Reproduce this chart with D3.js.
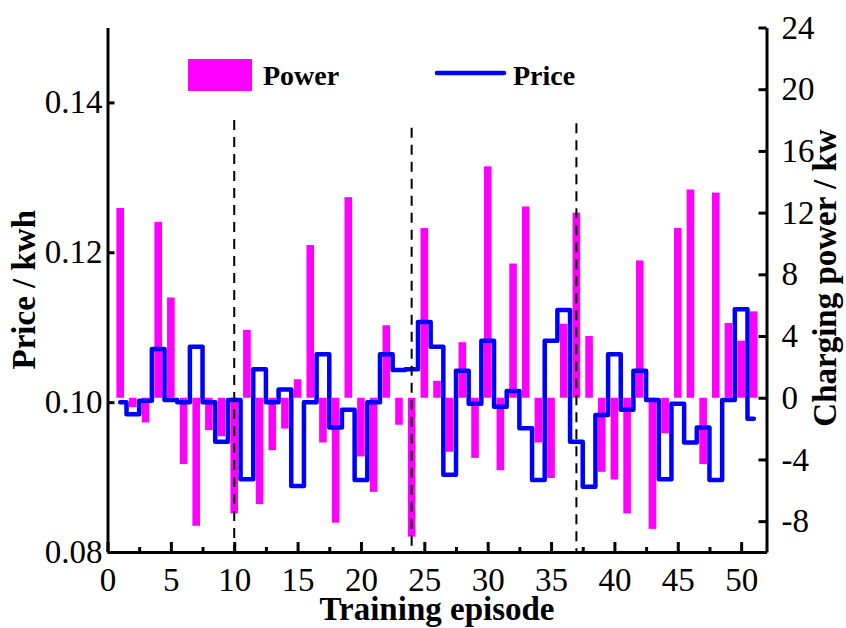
<!DOCTYPE html>
<html>
<head>
<meta charset="utf-8">
<script src="https://cdn.jsdelivr.net/npm/d3@7"></script>
<style>
  html, body { margin: 0; padding: 0; background: #fff; }
  svg { display: block; font-family: "Liberation Serif", "Times New Roman", serif; }
</style>
</head>
<body>
<svg id="chart" width="846" height="628"></svg>
<script>
// Training episodes (x categories)
const episodes = [1, 2, 3, 4, 5, 6, 7, 8, 9, 10, 11, 12, 13, 14, 15, 16, 17, 18, 19, 20,
  21, 22, 23, 24, 25, 26, 27, 28, 29, 30, 31, 32, 33, 34, 35, 36, 37, 38, 39, 40,
  41, 42, 43, 44, 45, 46, 47, 48, 49, 50, 51];

// Charging power per episode (kW, right axis)
const power = [12.3, -0.6, -1.6, 11.4, 6.5, -4.3, -8.3, -2.1, -2.5, -7.5,
  4.4, -6.9, -3.4, -2.0, 1.2, 9.9, -2.9, -8.1, 13.0, -3.8,
  -6.1, 4.7, -1.75, -9.0, 11.0, 1.1, -3.5, 3.6, -3.9, 15.0,
  -4.7, 8.7, 12.4, -2.9, -5.2, 4.8, 12.0, 4.0, -4.8, -5.3,
  -7.5, 8.9, -8.5, -2.3, 11.0, 13.5, -4.3, 13.3, 4.85, 3.7,
  5.6];

// Electricity price per episode (per kWh, left axis)
const price = [0.1000, 0.0984, 0.1002, 0.1071, 0.1003, 0.1000, 0.1074, 0.1000, 0.0947, 0.1003,
  0.0897, 0.1044, 0.1000, 0.1017, 0.0888, 0.1000, 0.1064, 0.0966, 0.0990, 0.0896,
  0.1000, 0.1064, 0.1043, 0.1044, 0.1107, 0.1074, 0.0903, 0.1042, 0.0998, 0.1082,
  0.0994, 0.1015, 0.0965, 0.0896, 0.1082, 0.1123, 0.0947, 0.0887, 0.0983, 0.1064,
  0.0990, 0.1042, 0.1003, 0.0897, 0.0998, 0.0946, 0.0966, 0.0896, 0.1003, 0.1124,
  0.0978];

// Tick values
const priceTicks = [0.08, 0.10, 0.12, 0.14];
const powerTicks = [-8, -4, 0, 4, 8, 12, 16, 20, 24];
const episodeTicks = [0, 5, 10, 15, 20, 25, 30, 35, 40, 45, 50];
const episodeMinorTicks = [2.5, 7.5, 12.5, 17.5, 22.5, 27.5, 32.5, 37.5, 42.5, 47.5];

// Phase dividers (episode position, top end in kW units)
const dividerEpisodes = [10, 24, 37];
const dividerTops = [18.0, 17.5, 17.8];

const svg = d3.select("#chart");
const plotLeft = 107.5, plotRight = 766.5, plotTop = 27.5, plotBottom = 552;

const x = d3.scaleLinear().domain([0, 52]).range([plotLeft, plotRight]);
const yPrice = d3.scaleLinear().domain([0.08, 0.15]).range([plotBottom, plotTop]);
const yPower = d3.scaleLinear().domain([-10, 24]).range([plotBottom, plotTop]);

const MAGENTA = "#ff00ff", BLUE = "#0000ff";
const barW = (x(1) - x(0)) * 0.6;

// Power bars
svg.append("g").selectAll("rect")
  .data(episodes.map((e, i) => ({ e, v: power[i] })))
  .join("rect")
  .attr("x", d => x(d.e) - barW / 2)
  .attr("y", d => yPower(Math.max(0, d.v)))
  .attr("width", barW)
  .attr("height", d => Math.abs(yPower(d.v) - yPower(0)))
  .attr("fill", MAGENTA);

// Price step line
const line = d3.line()
  .x((d, i) => x(episodes[i]))
  .y(d => yPrice(d))
  .curve(d3.curveStep);
svg.append("path")
  .datum(price)
  .attr("d", line)
  .attr("fill", "none")
  .attr("stroke", BLUE)
  .attr("stroke-width", 4.5)
  .attr("stroke-linejoin", "round")
  .attr("stroke-linecap", "round");

// Dashed dividers
svg.append("g").selectAll("line")
  .data(dividerEpisodes)
  .join("line")
  .attr("x1", d => x(d)).attr("x2", d => x(d))
  .attr("y1", (d, i) => yPower(dividerTops[i]))
  .attr("y2", plotBottom)
  .attr("stroke", "#000")
  .attr("stroke-width", 2)
  .attr("stroke-dasharray", "10,7");

// Axes
function styleAxis(g, fontSize) {
  g.select(".domain").attr("stroke", "#000").attr("stroke-width", 3);
  g.selectAll(".tick line").attr("stroke", "#000").attr("stroke-width", 3);
  g.selectAll(".tick text")
    .attr("fill", "#000")
    .style("font-family", '"Liberation Serif", "Times New Roman", serif')
    .style("font-size", fontSize + "px");
}

const gLeft = svg.append("g").attr("transform", `translate(${plotLeft},0)`)
  .call(d3.axisLeft(yPrice).tickValues(priceTicks).tickSize(-7).tickSizeOuter(0)
    .tickPadding(5).tickFormat(d3.format(".2f")));
styleAxis(gLeft, 33);

const gRight = svg.append("g").attr("transform", `translate(${plotRight},0)`)
  .call(d3.axisRight(yPower).tickValues(powerTicks).tickSize(-8).tickSizeOuter(0)
    .tickPadding(15).tickFormat(d => String(d)));
styleAxis(gRight, 33);

const gBottomMinor = svg.append("g").attr("transform", `translate(0,${plotBottom})`)
  .call(d3.axisBottom(x).tickValues(episodeMinorTicks).tickSize(-5).tickSizeOuter(0)
    .tickFormat(""));
gBottomMinor.select(".domain").remove();
gBottomMinor.selectAll(".tick line").attr("stroke", "#000").attr("stroke-width", 3);

const gBottom = svg.append("g").attr("transform", `translate(0,${plotBottom})`)
  .call(d3.axisBottom(x).tickValues(episodeTicks).tickSize(-10).tickSizeOuter(0)
    .tickPadding(16).tickFormat(d => String(d)));
styleAxis(gBottom, 33);

// Axis titles
svg.append("text")
  .attr("transform", `translate(35,${(plotTop + plotBottom) / 2}) rotate(-90)`)
  .attr("text-anchor", "middle")
  .style("font-size", "33px").style("font-weight", "bold")
  .text("Price / kwh");

svg.append("text")
  .attr("transform", `translate(836,278) rotate(-90)`)
  .attr("text-anchor", "middle")
  .style("font-size", "33px").style("font-weight", "bold")
  .text("Charging power / kw");

svg.append("text")
  .attr("x", (plotLeft + plotRight) / 2).attr("y", 620)
  .attr("text-anchor", "middle")
  .style("font-size", "33px").style("font-weight", "bold")
  .text("Training episode");

// Legend
const legend = svg.append("g");
legend.append("rect").attr("x", 188).attr("y", 59).attr("width", 64).attr("height", 32)
  .attr("fill", MAGENTA);
legend.append("text").attr("x", 263).attr("y", 85)
  .style("font-size", "28px").style("font-weight", "bold").text("Power");
legend.append("line").attr("x1", 437).attr("x2", 504).attr("y1", 73).attr("y2", 73)
  .attr("stroke", BLUE).attr("stroke-width", 4.5).attr("stroke-linecap", "round");
legend.append("text").attr("x", 513).attr("y", 85)
  .style("font-size", "28px").style("font-weight", "bold").text("Price");
</script>
</body>
</html>
